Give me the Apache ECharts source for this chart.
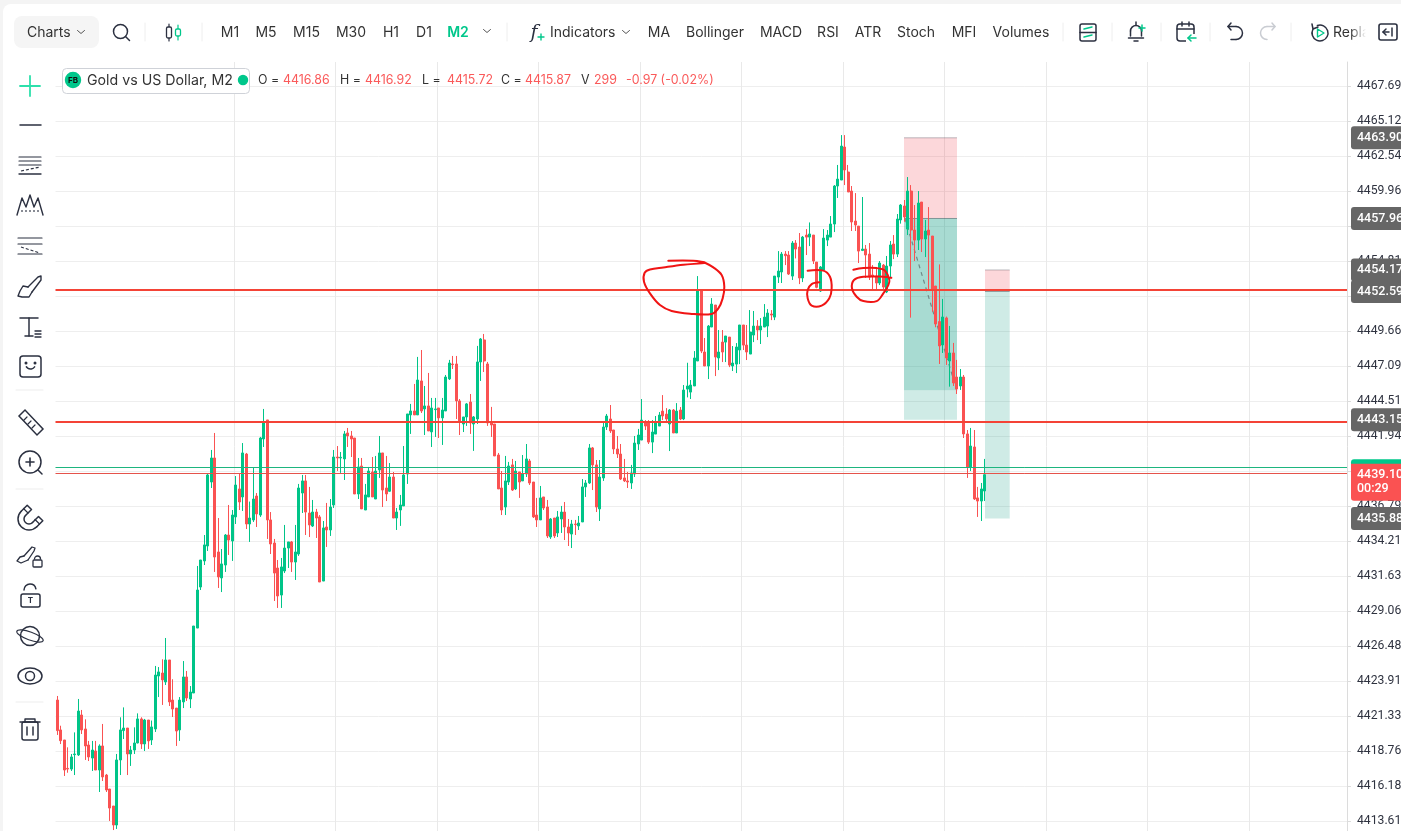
<!DOCTYPE html>
<html>
<head>
<meta charset="utf-8">
<style>
html,body{margin:0;padding:0;background:#f4f4f4;overflow:hidden}
#panel{position:absolute;left:3px;top:4px;width:1398px;height:827px;background:#fff;border-radius:8px 0 0 0}
#chart{position:absolute;left:0;top:0;width:1401px;height:831px}
</style>
<script src="https://cdn.jsdelivr.net/npm/echarts@6/dist/echarts.min.js"></script>
</head>
<body>
<div id="panel"></div>
<div id="chart"></div>
<script>
const opens=[4422.51,4420.31,4419.57,4417.48,4417.43,4418.49,4418.47,4421.41,4420.38,4419.20,
4418.24,4418.76,4417.36,4419.13,4416.99,4415.96,4414.71,4413.31,4418.10,4420.26,
4420.45,4418.54,4418.83,4419.35,4421.12,4419.28,4421.04,4419.57,4420.38,4424.28,
4424.50,4423.84,4425.46,4422.51,4421.92,4420.31,4422.37,4424.21,4422.59,4423.03,
4427.81,4430.83,4432.75,4433.85,4438.56,4440.33,4433.41,4431.50,4432.45,4434.66,
4434.22,4435.99,4438.05,4437.46,4440.62,4435.47,4435.77,4437.53,4436.13,4441.73,
4443.13,4435.77,4434.07,4432.23,4430.24,4432.01,4433.70,4434.15,4432.67,4433.26,
4437.75,4438.64,4436.28,4435.32,4436.35,4435.99,4431.27,4435.25,4435.03,4436.87,
4440.40,4440.33,4440.26,4442.17,4441.95,4441.80,4437.68,4439.74,4436.50,4437.46,
4439.30,4437.31,4439.45,4440.70,4438.12,4437.88,4438.93,4435.91,4436.50,4436.80,
4439.15,4443.50,4443.79,4443.50,4446.00,4443.94,4444.16,4442.25,4443.89,4444.01,
4443.28,4443.79,4446.15,4447.25,4447.25,4444.53,4442.83,4443.35,4444.45,4442.83,
4443.20,4447.40,4449.02,4447.25,4442.98,4442.83,4440.55,4438.12,4436.72,4438.56,
4439.82,4438.05,4439.30,4438.64,4439.15,4440.11,4438.56,4436.13,4435.77,4437.46,
4436.72,4434.51,4435.91,4434.81,4435.84,4436.35,4435.25,4434.73,4435.47,4435.33,
4435.62,4438.20,4438.49,4441.07,4439.82,4436.58,4438.86,4442.61,4443.20,4442.39,
4440.99,4440.62,4438.86,4438.64,4438.49,4439.15,4441.36,4441.65,4442.97,4442.90,
4441.50,4442.09,4442.68,4443.78,4443.56,4442.83,4443.86,4442.17,4443.86,4443.20,
4445.40,4445.18,4445.63,4447.47,4452.62,4448.13,4447.10,4449.97,4451.59,4447.69,
4448.86,4448.86,4449.23,4447.10,4447.24,4448.28,4450.12,4448.64,4447.98,4449.38,
4450.04,4449.75,4449.97,4450.04,4450.93,4450.70,4453.65,4454.02,4455.34,4455.27,
4453.72,4456.15,4455.86,4453.58,4456.74,4456.59,4456.74,4454.75,4452.62,4454.17,
4456.37,4456.59,4457.55,4460.35,4460.79,4463.22,4461.38,4459.98,4457.77,4457.40,
4455.61,4455.71,4455.34,4453.80,4453.72,4453.21,4454.53,4452.55,4454.46,4456.08,
4455.34,4457.85,4458.88,4457.18,4459.98,4457.11,4456.37,4459.17,4456.45,4457.11,
4456.67,4452.99,4450.37,4448.65,4450.64,4447.47,4448.06,4446.29,4445.63,4446.29,
4442.10,4439.67,4441.14,4437.39,4437.16,4437.90];
const closes=[4420.26,4419.52,4417.36,4417.43,4418.32,4418.54,4421.70,4420.31,4419.13,4418.32,
4418.83,4417.36,4419.13,4416.85,4415.89,4414.56,4413.31,4418.10,4420.31,4420.45,
4418.54,4418.83,4419.35,4421.12,4419.28,4421.04,4419.50,4420.53,4424.35,4424.58,
4423.99,4425.46,4422.37,4421.85,4420.23,4422.51,4424.21,4422.66,4423.10,4427.96,
4430.61,4432.82,4433.93,4439.08,4440.33,4433.04,4431.57,4432.53,4434.66,4434.29,
4436.13,4438.34,4437.09,4440.70,4435.47,4435.91,4437.31,4436.21,4441.80,4442.98,
4435.77,4434.00,4431.86,4430.17,4432.31,4433.70,4434.15,4432.67,4433.41,4438.12,
4438.64,4436.35,4435.40,4436.35,4435.91,4431.20,4435.18,4435.03,4436.72,4440.40,
4440.33,4440.38,4442.10,4441.95,4441.73,4437.68,4439.67,4436.58,4437.61,4439.37,
4437.46,4439.37,4440.70,4437.97,4437.68,4438.93,4435.91,4436.35,4436.87,4439.08,
4443.57,4443.79,4443.50,4446.07,4443.79,4444.16,4442.32,4444.01,4443.94,4443.28,
4443.86,4446.29,4447.32,4447.20,4444.53,4442.98,4443.35,4444.31,4442.91,4443.35,
4447.40,4449.09,4447.47,4442.91,4442.76,4440.48,4438.05,4436.50,4438.64,4439.74,
4437.97,4439.37,4438.56,4439.15,4440.26,4438.49,4435.99,4435.77,4437.39,4436.65,
4434.59,4435.84,4434.59,4435.99,4436.35,4435.25,4434.81,4435.47,4435.42,4435.54,
4438.20,4438.49,4441.07,4439.82,4436.72,4438.93,4442.61,4443.42,4442.32,4440.99,
4440.62,4438.78,4438.64,4438.56,4439.23,4441.43,4442.02,4443.12,4442.68,4441.50,
4442.24,4442.97,4443.49,4443.42,4443.20,4443.86,4442.17,4443.78,4443.20,4445.33,
4445.63,4445.70,4447.69,4452.62,4448.20,4447.10,4450.04,4451.66,4447.76,4448.13,
4448.13,4449.31,4447.17,4447.32,4448.50,4450.12,4448.64,4448.13,4449.60,4450.04,
4449.75,4450.04,4450.70,4451.00,4450.85,4453.72,4454.09,4455.34,4455.22,4453.87,
4456.15,4455.71,4453.58,4456.59,4456.59,4456.82,4454.83,4452.89,4454.39,4456.52,
4456.74,4457.55,4460.35,4460.86,4463.29,4461.53,4459.91,4457.70,4457.48,4455.56,
4455.71,4455.27,4453.65,4453.72,4453.21,4454.68,4452.91,4454.46,4456.01,4455.34,
4457.92,4458.95,4458.07,4459.98,4457.11,4456.37,4459.10,4456.45,4457.04,4456.74,
4452.77,4450.19,4448.58,4450.71,4447.69,4448.06,4445.85,4445.41,4446.29,4442.10,
4439.67,4441.21,4437.31,4437.16,4438.05,4439.10];
const lows=[4419.94,4419.27,4416.92,4417.16,4417.29,4416.99,4418.39,4420.01,4418.10,4418.02,
4417.29,4417.36,4415.74,4416.55,4415.74,4413.61,4412.94,4413.02,4416.99,4419.64,
4416.99,4417.66,4418.54,4419.32,4418.91,4418.76,4418.91,4419.20,4420.16,4422.73,
4422.15,4423.62,4422.07,4421.26,4419.13,4419.50,4421.92,4422.44,4421.92,4423.03,
4427.81,4430.61,4432.45,4433.48,4438.12,4431.94,4430.76,4430.46,4431.94,4433.19,
4432.75,4435.47,4436.50,4436.43,4435.10,4434.15,4435.62,4435.25,4435.99,4441.14,
4434.37,4433.26,4429.80,4429.29,4429.29,4431.86,4432.23,4431.94,4431.35,4433.12,
4436.28,4434.66,4434.51,4435.25,4434.44,4431.20,4431.27,4433.78,4434.59,4436.65,
4439.37,4439.23,4438.71,4441.14,4440.40,4437.68,4437.31,4436.58,4436.50,4437.46,
4437.46,4437.31,4438.86,4436.72,4437.16,4437.83,4435.91,4435.03,4435.33,4436.80,
4438.42,4442.10,4443.50,4443.50,4443.64,4442.02,4442.32,4441.14,4441.88,4441.80,
4441.29,4443.79,4446.07,4446.88,4443.20,4442.02,4442.24,4442.69,4442.10,4440.85,
4442.83,4446.00,4446.66,4442.69,4441.88,4440.48,4438.05,4436.13,4436.13,4438.34,
4437.90,4437.97,4437.39,4438.64,4438.93,4438.34,4435.91,4435.25,4435.77,4436.50,
4434.44,4434.37,4434.44,4434.51,4434.81,4434.29,4433.85,4433.70,4434.66,4435.03,
4435.62,4437.46,4438.42,4437.97,4436.35,4435.69,4438.64,4442.39,4442.17,4440.62,
4440.33,4438.71,4438.56,4438.12,4438.05,4438.93,4440.92,4441.65,4442.39,4441.36,
4440.69,4442.09,4442.68,4443.12,4442.90,4440.84,4442.17,4442.17,4443.12,4443.12,
4444.79,4444.67,4445.63,4447.47,4448.05,4447.10,4446.14,4449.97,4446.36,4446.80,
4447.39,4447.39,4447.02,4446.73,4446.58,4447.24,4448.28,4447.54,4447.98,4448.86,
4449.01,4448.72,4449.97,4449.23,4450.48,4450.48,4453.21,4453.21,4454.53,4453.80,
4453.43,4455.02,4453.13,4453.28,4455.27,4455.93,4454.61,4452.82,4452.55,4454.17,
4455.93,4456.59,4456.96,4459.47,4460.79,4460.42,4459.91,4457.04,4457.04,4454.68,
4455.56,4453.58,4453.43,4452.77,4452.77,4453.06,4452.77,4452.47,4453.65,4454.97,
4455.12,4457.58,4457.72,4456.74,4450.66,4454.83,4455.64,4455.49,4455.12,4452.77,
4451.10,4449.95,4447.25,4448.06,4447.18,4445.58,4445.63,4445.04,4445.34,4441.80,
4438.86,4439.37,4437.24,4435.99,4435.69,4437.16];
const highs=[4422.81,4420.62,4419.57,4419.03,4418.54,4420.13,4422.59,4421.78,4421.09,4419.50,
4419.50,4419.50,4419.25,4420.75,4417.07,4415.96,4414.71,4418.54,4421.24,4421.97,
4420.45,4419.13,4420.50,4421.53,4421.24,4421.12,4421.04,4421.00,4425.02,4424.94,
4425.51,4427.08,4425.46,4424.04,4421.92,4422.73,4425.38,4424.65,4423.54,4427.96,
4432.38,4432.82,4434.66,4439.15,4440.92,4442.17,4435.91,4433.63,4434.73,4436.87,
4436.50,4439.00,4439.15,4441.43,4440.70,4437.12,4439.59,4437.75,4441.88,4443.94,
4443.13,4436.35,4434.37,4432.82,4432.97,4435.40,4434.15,4434.22,4435.40,4438.42,
4439.08,4439.08,4438.20,4437.24,4436.58,4436.13,4435.69,4437.02,4437.31,4440.92,
4441.21,4440.77,4442.32,4442.54,4442.32,4441.80,4440.33,4440.33,4438.42,4439.67,
4440.40,4440.48,4441.95,4440.70,4440.48,4439.96,4439.30,4436.65,4437.61,4441.21,
4443.57,4444.31,4445.78,4447.77,4448.28,4445.63,4446.59,4444.75,4444.75,4444.01,
4444.75,4446.44,4447.55,4447.84,4447.84,4444.67,4443.35,4444.38,4445.04,4443.42,
4448.58,4449.16,4449.46,4447.40,4444.09,4442.83,4440.70,4439.37,4440.48,4440.04,
4440.26,4440.11,4439.30,4440.55,4441.36,4440.26,4438.56,4437.39,4438.27,4437.46,
4437.24,4435.91,4435.91,4436.43,4436.80,4437.09,4435.84,4435.77,4435.77,4436.06,
4438.78,4438.71,4441.36,4441.14,4440.18,4440.18,4442.91,4443.57,4444.23,4442.39,
4441.95,4441.36,4440.26,4439.30,4439.82,4441.95,4442.47,4444.67,4443.12,4443.12,
4443.12,4443.42,4443.71,4444.96,4444.00,4443.93,4443.93,4444.37,4444.08,4445.70,
4447.34,4446.07,4448.20,4453.72,4452.62,4449.16,4450.12,4452.10,4451.59,4449.75,
4449.75,4449.31,4449.23,4448.57,4448.79,4450.12,4450.12,4450.12,4451.22,4451.15,
4450.48,4450.63,4451.66,4451.29,4451.22,4453.72,4455.56,4455.49,4455.56,4455.56,
4456.30,4456.37,4456.89,4456.67,4457.18,4457.67,4456.74,4454.75,4454.46,4457.18,
4457.11,4458.14,4460.42,4461.90,4464.10,4464.10,4461.90,4460.35,4459.83,4457.40,
4459.54,4456.01,4456.15,4454.53,4454.39,4454.83,4454.61,4455.20,4456.30,4456.74,
4458.29,4459.02,4459.32,4461.01,4460.42,4458.95,4459.98,4459.17,4457.85,4458.80,
4456.67,4452.99,4454.58,4452.04,4450.74,4450.05,4448.80,4447.55,4446.88,4446.44,
4442.39,4442.54,4442.39,4438.20,4438.49,4440.26];

const slotCount=369;
const categories=Array.from({length:slotCount},(_,i)=>String(i));
const yTicks=[4467.69,4465.12,4462.54,4459.96,4457.39,4454.81,4452.24,4449.66,4447.09,4444.51,4441.94,4439.36,4436.79,4434.21,4431.63,4429.06,4426.48,4423.91,4421.33,4418.76,4416.18,4413.61];
const tagValues=[4463.90,4457.96,4454.17,4452.59,4443.15,4435.88];
const currentPrice=4439.10;
const countdown='00:29';
const boxes=[[241.93,257.07,4463.90,4457.96],[241.93,257.07,4457.96,4445.31],[241.93,257.07,4445.31,4443.15],[265.07,272.13,4454.17,4452.59],[265.07,272.13,4452.59,4435.88]];
const boxFills=['rgba(242,54,69,.2)','rgba(0,149,122,.34)','rgba(0,149,122,.19)','rgba(242,54,69,.2)','rgba(0,149,122,.19)'];
const tradeDiag=[[242.2,4457.96],[257,4445.31]];
const strokeBig=[[174.59,4454.85],[181.74,4454.85],[185.07,4454.70],[178.88,4454.56],[173.16,4454.36],[169.35,4454.21],[167.83,4453.97],[167.64,4453.31],[169.35,4452.45],[172.21,4451.59],[175.54,4451.15],[180.78,4450.95],[186.97,4450.93],[188.88,4451.34],[190.12,4452.08],[190.59,4452.94],[189.83,4453.80],[187.45,4454.36],[185.07,4454.70]];
const strokeSmall=[[214.40,4454.12],[218.88,4454.12],[220.78,4453.67],[221.26,4452.82],[220.59,4452.08],[218.40,4451.54],[215.55,4451.54],[214.40,4452.08],[214.40,4452.69],[215.55,4453.13],[217.74,4453.26]];
const strokeThird=[[227.45,4454.19],[230.31,4454.31],[234.12,4454.31],[236.50,4454.12],[237.74,4453.43],[237.45,4453.06],[236.02,4452.45],[234.12,4451.88],[230.31,4451.88],[228.40,4452.20],[227.07,4452.82],[227.64,4453.43],[230.31,4453.67],[236.02,4453.67],[238.31,4453.60]];
const ohlcLabels=[['O = ',258],['4416.86',283,1],['H = ',340],['4416.92',365,1],['L = ',422],['4415.72',447,1],['C = ',501],['4415.87',525,1],['V ',581],['299',594,1],['-0.97 (-0.02%)',626,1]];
const topMenu=[['M1',230],['M5',266],['M15',306.5],['M30',351],['H1',391],['D1',424],['MA',659],['Bollinger',715],['MACD',781],['RSI',828],['ATR',868],['Stoch',916],['MFI',964],['Volumes',1021]];

const DARK='#2b3040', GREEN='#00c78b', CANDLE_UP='#00c488', RED='#fa5252', GRID='#eeeeee';
const candles=opens.map((o,i)=>[o,closes[i],lows[i],highs[i]]);

function T(t,x,y,font,fill,align){y+=1;return {type:'text',silent:true,style:{text:t,x,y,font,fill:fill||DARK,align:align||'left',verticalAlign:'middle',textAlign:align||'left',textVerticalAlign:'middle'}};}
function L(x1,y1,x2,y2,c,w){return {type:'line',silent:true,shape:{x1,y1,x2,y2},style:{stroke:c||DARK,lineWidth:w||1.4,lineCap:'round'}};}
function P(pts,c,w){return {type:'polyline',silent:true,shape:{points:pts},style:{stroke:c||DARK,lineWidth:w||1.4,fill:'none',lineJoin:'round',lineCap:'round'}};}
function C(cx,cy,r,c,w,fill){return {type:'circle',silent:true,shape:{cx,cy,r},style:{stroke:c||DARK,lineWidth:w||1.4,fill:fill||'none'}};}
function R(x,y,wd,h,r,c,w,fill){return {type:'rect',silent:true,shape:{x,y,width:wd,height:h,r:r||0},style:{stroke:c||null,lineWidth:w||0,fill:fill||'none'}};}
function A(cx,cy,r,s,e,c,w){return {type:'arc',silent:true,shape:{cx,cy,r,startAngle:s,endAngle:e,clockwise:true},style:{stroke:c||DARK,lineWidth:w||1.4,fill:'none',lineCap:'round'}};}
function chev(x,y){return P([[x-3.5,y-1.5],[x,y+1.5],[x+3.5,y-1.5]],'#555',1);}

const F14='14px Inter', els=[];
// top bar
els.push(R(14,16,85,32,8,null,0,'#f5f5f5'));
els.push(T('Charts',27,32,F14,'#333'),chev(81,32));
els.push(C(120.5,31.5,7,DARK,1.5),L(125.5,36.5,129.5,40.5,DARK,1.5));
[145,202,507,1063,1112,1161,1210,1291].forEach(x=>els.push(L(x,23,x,41,'#eeeeee',1)));
els.push(L(169,24,169,41,DARK,1.2),R(166.5,27,5,11,1.5,DARK,1.3,'#fff'),L(178,25,178,40,GREEN,1.2),R(175.5,29,5,7,1.5,GREEN,1.3,'#fff'));
topMenu.forEach(m=>els.push(T(m[0],m[1],32,F14,'#333','center')));
els.push(T('M2',458,32,'600 14px Inter',GREEN,'center'),chev(487,31));
els.push(T('f',534,32,'italic 19px "DejaVu Serif"',DARK,'center'),L(538,37,544,37,GREEN,1.4),L(541,34,541,40,GREEN,1.4));
els.push(T('Indicators',550,32,F14,'#333'),chev(626,32));
// right icons
els.push(R(1080,24,16,17,2,DARK,1.5),L(1080,32.5,1096,32.5,DARK,1.5),L(1084,29,1092,27,GREEN,1.5),L(1084,37,1092,35,GREEN,1.5));
els.push(A(1136,31,5.5,Math.PI,0,DARK,1.5),L(1130.5,31,1130.5,36,DARK,1.5),L(1141.5,31,1141.5,36,DARK,1.5),L(1128.5,38,1143.5,38,DARK,1.5),L(1134,41,1138,41,DARK,1.5),L(1136,22,1136,25,DARK,1.5),L(1139,28,1145,28,GREEN,1.5),L(1142,25,1142,31,GREEN,1.5));
els.push(R(1177,24,17,17,3,DARK,1.5),L(1177,29,1194,29,DARK,1.5),L(1182,22,1182,26,DARK,1.5),L(1189,22,1189,26,DARK,1.5),R(1186,34,12,10,0,null,0,'#fff'),L(1188,38,1196,38,GREEN,1.5),P([[1191,35],[1188,38],[1191,41]],GREEN,1.5));
els.push(A(1236,33,6.5,-1.57,1.57,DARK,1.5),L(1228,26.5,1236,26.5,DARK,1.5),P([[1231,23],[1228,26.5],[1231,30]],DARK,1.5),L(1231,39.5,1236,39.5,DARK,1.5));
els.push(A(1267,33,6.5,1.57,4.71,'#c9ccd2',1.5),L(1267,26.5,1275,26.5,'#c9ccd2',1.5),P([[1272,23],[1275,26.5],[1272,30]],'#c9ccd2',1.5));
els.push(A(1320,33,8,-1.9,3.6,DARK,1.5),P([[1312,24],[1313,29],[1318,27]],DARK,1.5),P([[1317.5,29],[1324,33],[1317.5,37],[1317.5,29]],GREEN,1.4));
els.push(T('Replay',1333,32,F14,'#333'));
els.push({type:'rect',silent:true,shape:{x:1350,y:20,width:16,height:24},style:{fill:{type:'linear',x:0,y:0,x2:1,y2:0,colorStops:[{offset:0,color:'rgba(255,255,255,0)'},{offset:1,color:'#fff'}]}}});
els.push(R(1366,20,12,24,0,null,0,'#fff'));
els.push(R(1379,24,18,16,2,DARK,1.6),L(1383,32,1389,32,DARK,1.5),P([[1386,29],[1383,32],[1386,35]],DARK,1.5),L(1392,28,1392,36,DARK,1.5));
// legend
els.push(R(62.5,68.5,187,25,4,'#cfd2d8',1,'#fff'));
els.push(C(73,80,7.5,GREEN,0,GREEN),T('FB',73,79.5,'700 8px Inter','#111','center'));
els.push(T('Gold vs US Dollar, M2',87,79.5,'14.2px Inter','#333'),C(243,80,4.5,GREEN,0,GREEN));
ohlcLabels.forEach(o=>els.push(T(o[0],o[1],79,'12.4px Inter',o[2]?'#fa5a5a':'#333')));
// left tools
els.push(L(20,86,40,86,'#2de0ab',1.8),L(30,76,30,96,'#2de0ab',1.8));
els.push(L(20,125,41,125,DARK,1.5));
[157,161,165].forEach(y=>els.push(L(19,y,41,y,DARK,1.2)));
els.push({type:'line',silent:true,shape:{x1:21,y1:171,x2:40,y2:167},style:{stroke:DARK,lineWidth:1.2,lineDash:[3,2]}},L(19,174,41,174,DARK,1.3));
els.push(P([[17,215],[22,198],[26,207],[30,195],[34,207],[38,198],[43,215]],DARK,1.4),{type:'line',silent:true,shape:{x1:21,y1:211,x2:39,y2:211},style:{stroke:DARK,lineWidth:1.1,lineDash:[2,2]}});
els.push(L(18,238,42,238,DARK,1.2),L(18,244,42,244,DARK,1.2),{type:'line',silent:true,shape:{x1:21,y1:247,x2:40,y2:253},style:{stroke:DARK,lineWidth:1.1,lineDash:[3,2]}},L(18,254,42,254,DARK,1.2));
els.push(P([[28,287],[38,277],[41,276],[41,280],[32,292]],DARK,1.4),P([[28,287],[23,286],[20,291],[18,296],[22,297],[29,297],[32,292]],DARK,1.4));
els.push(L(20,318,38,318,DARK,1.5),L(29,318,29,336,DARK,1.5),L(25,336,33,336,DARK,1.5),L(35,331,41,331,DARK,1.3),L(35,334,41,334,DARK,1.3),L(35,337,41,337,DARK,1.3));
els.push(R(20,356,21,21,3,DARK,1.5),A(30.5,364,5,0.6,2.55,DARK,1.5),C(26,363,.8,DARK,0,DARK),C(35,363,.8,DARK,0,DARK));
els.push(L(16,390,43,390,'#eeeeee',1.2));
els.push({type:'polygon',silent:true,shape:{points:[[19,416],[25,410],[43,429],[37,435]]},style:{stroke:DARK,lineWidth:1.5,fill:'none'}},L(27,417,24,420,DARK,1.2),L(31,421,28,424,DARK,1.2),L(35,425,32,428,DARK,1.2));
els.push(C(30,462,11,DARK,1.5),L(38,470,42,474,DARK,1.5),L(26,462,34,462,DARK,1.6),L(30,458,30,466,DARK,1.6));
els.push(L(16,489,43,489,'#eeeeee',1.2));
els.push(A(29,519,5,0.785,3.927,DARK,1.5),A(29,519,11,0.785,3.927,DARK,1.5));
els.push(P([[21.2,511.2],[27.2,505.2],[31.5,509.5],[25.5,515.5]],DARK,1.5),P([[36.8,526.8],[42.8,520.8],[38.5,516.5],[32.5,522.5]],DARK,1.5),L(23.5,508.5,28,513,DARK,1.2),L(39.5,524,35,519.5,DARK,1.2));
els.push(P([[24,556],[32,547],[35,548],[34,551],[28,560]],DARK,1.3),P([[24,556],[20,557],[17,561],[21,563],[28,560]],DARK,1.3),R(33,560,9,7,1,DARK,1.3),A(37.5,559,3,3.14,6.28,DARK,1.3));
els.push(R(21,594,19,13,2,DARK,1.5),A(30,590,6,3.14,-0.2,DARK,1.5),T('T',30.5,600,'700 8px Inter',DARK,'center'));
els.push(C(30,636,9.5,DARK,1.5),{type:'ellipse',silent:true,rotation:-0.35,originX:30,originY:636,shape:{cx:30,cy:636,rx:14,ry:4},style:{stroke:DARK,lineWidth:1.2,fill:'none'}});
els.push({type:'ellipse',silent:true,shape:{cx:30,cy:676,rx:12,ry:8},style:{stroke:DARK,lineWidth:1.5,fill:'none'}},C(30,676,4.5,DARK,1.5));
els.push(L(16,702,43,702,'#eeeeee',1.2));
els.push(L(20,722,40,722,DARK,1.5),P([[25,722],[25,719],[35,719],[35,722]],DARK,1.4),R(22,722,16,18,2,DARK,1.5),L(27,727,27,735,DARK,1.5),L(33,727,33,735,DARK,1.5));
els.forEach(e=>{e.z=100;});

const strokes=[strokeBig,strokeSmall,strokeThird];

const chart=echarts.init(document.getElementById('chart'),null,{renderer:'canvas'});
chart.setOption({
  animation:false,
  backgroundColor:'transparent',
  graphic:{elements:els},
  grid:{left:55.5,top:62,width:1291.5,height:769,containLabel:false,outerBoundsMode:'none'},
  xAxis:[
    {type:'category',data:categories,boundaryGap:true,position:'bottom',
     axisLine:{show:false},axisTick:{show:false},axisLabel:{show:false},
     splitLine:{show:true,showMinLine:false,showMaxLine:false,interval:(i)=>(i-22)%29===0&&i>=22,lineStyle:{color:'#e9e9e9',width:1}}},
    {type:'value',min:-0.5,max:slotCount-0.5,show:false,splitLine:{show:false}}
  ],
  yAxis:{type:'value',position:'right',min:4412.87,max:4469.48,scale:true,
    axisLine:{show:true,onZero:false,lineStyle:{color:'#dcdcdc'}},
    axisTick:{show:true,length:4,lineStyle:{color:'#dcdcdc'},customValues:yTicks},
    axisLabel:{color:'#2f3340',fontFamily:'Roboto',fontSize:12.2,margin:10,align:'left',padding:[0,0,3,0],customValues:yTicks,formatter:v=>v.toFixed(2),showMinLabel:true,showMaxLabel:true},
    splitLine:{show:true,lineStyle:{color:GRID,width:1}}},
  series:[
    {type:'custom',name:'positions',xAxisIndex:1,yAxisIndex:0,z:1,silent:true,clip:false,
     data:boxes,encode:{x:[0,1],y:[2,3]},
     renderItem:(p,api)=>{
       const a=api.coord([api.value(0),api.value(2)]),b=api.coord([api.value(1),api.value(3)]);
       const i=p.dataIndex, kids=[{type:'rect',shape:{x:a[0],y:a[1],width:b[0]-a[0],height:b[1]-a[1]},style:{fill:boxFills[i]}}];
       if(i===0||i===3) kids.push({type:'line',shape:{x1:a[0],y1:a[1],x2:b[0],y2:a[1]},style:{stroke:'rgba(90,90,100,.4)',lineWidth:1}});
       if(i===0||i===3) kids.push({type:'line',shape:{x1:a[0],y1:b[1],x2:b[0],y2:b[1]},style:{stroke:'rgba(70,80,90,.55)',lineWidth:1}});
       return {type:'group',children:kids};
     }},
    {type:'custom',name:'trade path',xAxisIndex:1,yAxisIndex:0,z:1,silent:true,clip:false,
     data:[[tradeDiag[0][0],tradeDiag[0][1],tradeDiag[1][0],tradeDiag[1][1]]],encode:{x:[0,2],y:[1,3]},
     renderItem:(p,api)=>{
       const a=api.coord([api.value(0),api.value(1)]),b=api.coord([api.value(2),api.value(3)]);
       return {type:'line',shape:{x1:a[0],y1:a[1],x2:b[0],y2:b[1]},style:{stroke:'#6f8a88',lineWidth:1.2,lineDash:[4,4]}};
     }},
    {type:'candlestick',name:'Gold vs US Dollar, M2',xAxisIndex:0,yAxisIndex:0,z:3,silent:true,
     data:candles,barWidth:2.5,
     itemStyle:{color:CANDLE_UP,color0:RED,borderColor:CANDLE_UP,borderColor0:RED,borderWidth:1},
     markLine:{silent:true,symbol:'none',label:{show:false},animation:false,z:4,
       data:[
         {yAxis:4452.72,lineStyle:{color:'#f44336',width:2,type:'solid'}},
         {yAxis:4443.03,lineStyle:{color:'#f44336',width:2,type:'solid'}},
         {yAxis:4439.64,lineStyle:{color:'#1db57f',width:1,type:'solid'}},
         {yAxis:4439.20,lineStyle:{color:'#e5534b',width:1,type:'solid'}}
       ]}},
    {type:'custom',name:'hand strokes',xAxisIndex:1,yAxisIndex:0,z:6,silent:true,clip:false,
     data:strokes.map(s=>s[0]),encode:{x:0,y:1},
     renderItem:(p,api)=>({type:'polyline',shape:{points:strokes[p.dataIndex].map(q=>api.coord(q)),smooth:0.35},style:{stroke:'#f01414',lineWidth:2,fill:'none',lineCap:'round',lineJoin:'round'}})},
    {type:'custom',name:'price tags',xAxisIndex:1,yAxisIndex:0,z:10,silent:true,clip:false,
     data:tagValues.map(v=>[0,v]),encode:{x:0,y:1},
     renderItem:(p,api)=>{
       const y=api.coord([0,api.value(1)])[1];
       return {type:'group',children:[
         {type:'rect',shape:{x:1351,y:y-11.5,width:60,height:23,r:3},style:{fill:'#666666'}},
         {type:'text',style:{text:api.value(1).toFixed(2),x:1357,y:y,fill:'#fff',font:'500 12.5px Roboto',textAlign:'left',textVerticalAlign:'middle',align:'left',verticalAlign:'middle'}}
       ]};
     }},
    {type:'custom',name:'current price',xAxisIndex:1,yAxisIndex:0,z:11,silent:true,clip:false,
     data:[[0,currentPrice]],encode:{x:0,y:1},
     renderItem:(p,api)=>{
       const y=api.coord([0,api.value(1)])[1];
       return {type:'group',children:[
         {type:'rect',shape:{x:1351,y:y-15.5,width:60,height:8,r:[3,0,0,0]},style:{fill:GREEN}},
         {type:'rect',shape:{x:1351,y:y-11,width:60,height:37,r:[0,0,0,3]},style:{fill:RED}},
         {type:'text',style:{text:api.value(1).toFixed(2),x:1357,y:y,fill:'#fff',font:'500 12.5px Roboto',textAlign:'left',textVerticalAlign:'middle',align:'left',verticalAlign:'middle'}},
         {type:'text',style:{text:countdown,x:1357,y:y+14.5,fill:'#fff',font:'500 12.5px Roboto',textAlign:'left',textVerticalAlign:'middle',align:'left',verticalAlign:'middle'}}
       ]};
     }}
  ]
});
</script>
</body>
</html>
